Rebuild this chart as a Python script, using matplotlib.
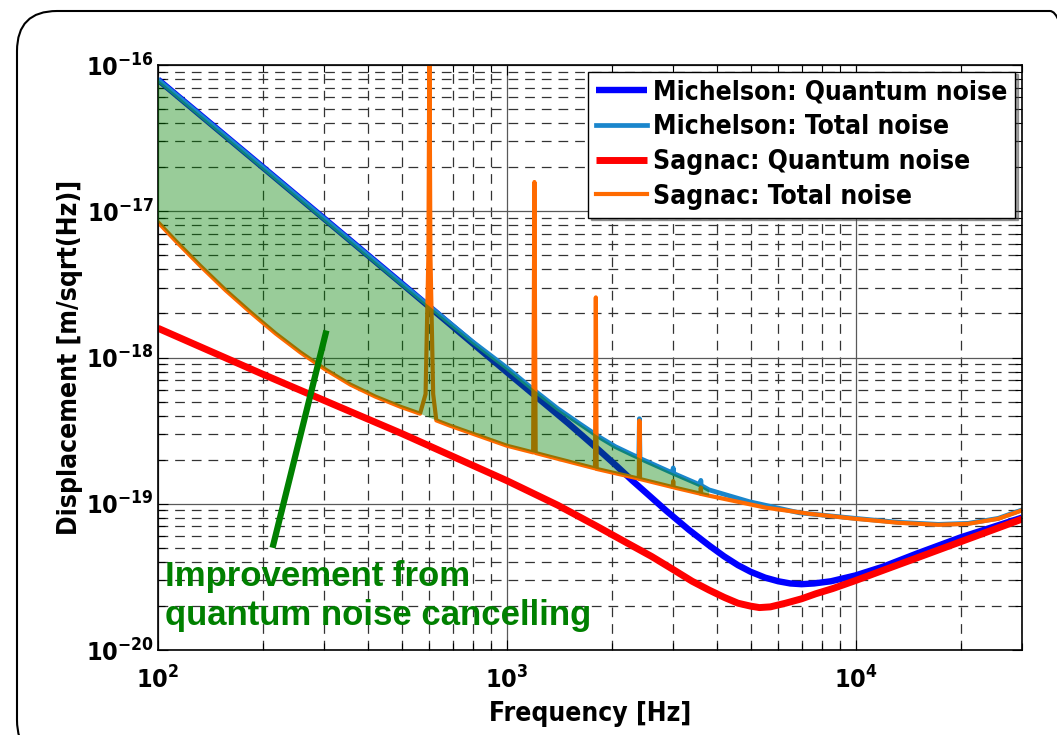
import matplotlib
matplotlib.use('Agg')
import matplotlib.pyplot as plt
import numpy as np
from matplotlib.patches import FancyBboxPatch
from matplotlib.transforms import IdentityTransform

plt.rcParams['font.family'] = ['DejaVu Sans']
plt.rcParams['font.weight'] = 'bold'
plt.rcParams['font.stretch'] = 'condensed'
plt.rcParams['font.size'] = 19
plt.rcParams['axes.labelweight'] = 'bold'
plt.rcParams['lines.scale_dashes'] = False

# Michelson: quantum noise  (freq [Hz], log10 displacement)
mq_f = [100, 200, 500, 1000, 1500, 1845, 2061, 2291, 2563, 2866, 3334, 3802, 4200, 4600,
        5000, 5500, 6000, 6500, 7000, 7600, 8500, 10000, 12000, 15000, 20000, 30000]
mq_y = [-16.10, -16.70, -17.495, -18.10, -18.45, -18.637, -18.74, -18.842, -18.945, -19.048,
        -19.18, -19.285, -19.36, -19.42, -19.465, -19.505, -19.53, -19.545, -19.55, -19.545,
        -19.53, -19.49, -19.43, -19.34, -19.23, -19.095]

# Michelson: total noise
mt_f = [100, 200, 500, 800, 1000, 1200, 1400, 1600, 1845, 2050, 2291, 2390, 2400, 2410,
        2976, 2990, 3000, 3010, 3590, 3600, 3610, 3802, 4945, 6900, 10000, 13270, 17270,
        21030, 25630, 30000]
mt_y = [-16.10, -16.70, -17.495, -17.894, -18.07, -18.225, -18.35, -18.445, -18.545, -18.61,
        -18.665, -18.685, -18.418, -18.69, -18.788, -18.79, -18.755, -18.793, -18.872, -18.84,
        -18.875, -18.905, -18.985, -19.062, -19.10, -19.127, -19.141, -19.134, -19.100, -19.042]

# Sagnac: quantum noise
sq_f = [100, 200, 500, 1000, 1400, 1800, 2200, 2600, 3000, 3400, 3800, 4200, 4600, 5000,
        5300, 5700, 6300, 7000, 7700, 8600, 10000, 12000, 15000, 20000, 30000]
sq_y = [-17.80, -18.115, -18.52, -18.842, -19.01, -19.15, -19.265, -19.36, -19.45, -19.53,
        -19.59, -19.64, -19.68, -19.70, -19.71, -19.705, -19.68, -19.65, -19.615, -19.58,
        -19.525, -19.455, -19.37, -19.26, -19.105]

# Sagnac: total noise (with the resonance lines)
st_f = [100, 112.6, 132.7, 156.4, 184.4, 217.4, 256.3, 302, 355.9, 419.6, 494.6, 564,
        585, 596, 600, 604, 615, 628, 687, 1000, 1190, 1200, 1210, 1327, 1790, 1800, 1810,
        2390, 2400, 2410, 2990, 3000, 3010, 3121, 3590, 3600, 3610, 3802, 5534, 7342, 10000,
        13270, 17270, 21030, 25630, 30000]
st_y = [-17.075, -17.205, -17.377, -17.541, -17.692, -17.836, -17.966, -18.082, -18.185,
        -18.267, -18.336, -18.384, -18.25, -17.3, -15.8, -17.3, -18.25, -18.43, -18.466,
        -18.603, -18.649, -16.80, -18.653, -18.678, -18.758, -17.589, -18.762, -18.828,
        -18.432, -18.831, -18.886, -18.845, -18.888, -18.897, -18.931, -18.89, -18.933,
        -18.945, -19.027, -19.068, -19.103, -19.130, -19.144, -19.137, -19.103, -19.045]

# points that belong to resonance peaks (left out of the shaded area)
res_f = [585, 596, 600, 604, 615, 1200, 1800, 2400, 3000, 3600]
fill_fmax = 3802

# annotation pointer
arrow_f = [213, 304]
arrow_y = [5.0e-20, 1.53e-18]

mq_f, mq_y = np.array(mq_f), 10.0 ** np.array(mq_y)
mt_f, mt_y = np.array(mt_f), 10.0 ** np.array(mt_y)
sq_f, sq_y = np.array(sq_f), 10.0 ** np.array(sq_y)
st_f, st_y = np.array(st_f), 10.0 ** np.array(st_y)

fig = plt.figure(figsize=(10.57, 7.35), dpi=100)
ax = fig.add_axes([158/1057, 1 - 650/735, (1022-158)/1057, (650-65)/735])

ax.plot(mq_f, mq_y, color='#0000ff', lw=4.6, label='Michelson: Quantum noise', solid_capstyle='butt')
ax.plot(mt_f, mt_y, color='#1a86cc', lw=3.4, label='Michelson: Total noise')
ax.plot(sq_f, sq_y, color='#ff0000', lw=5.0, label='Sagnac: Quantum noise', solid_capstyle='butt')
ax.plot(st_f, st_y, color='#ff6a00', lw=3.0, label='Sagnac: Total noise')

# shaded improvement between the two total noise curves
up = (mt_f <= fill_fmax) & ~np.isin(mt_f, res_f)
lo = (st_f <= fill_fmax) & ~np.isin(st_f, res_f)
ax.fill(np.r_[mt_f[up], st_f[lo][::-1]], np.r_[mt_y[up], st_y[lo][::-1]],
        color='green', alpha=0.4, lw=0, zorder=3)

ax.plot(arrow_f, arrow_y, color='green', lw=4.5, solid_capstyle='butt', zorder=4)
ax.text(0.008, 0.092, 'Improvement from\nquantum noise cancelling', transform=ax.transAxes,
        color='green', family='Liberation Sans', weight='bold', stretch='normal', size=25,
        va='center', ha='left', linespacing=1.25, zorder=5)

ax.set_xscale('log')
ax.set_yscale('log')
ax.set_xlim(100, 30000)
ax.set_ylim(1e-20, 1e-16)

ax.grid(True, which='major', ls='-', color='0.35', lw=0.9)
ax.grid(True, which='minor', ls=(0, (7, 5)), color='0.2', lw=0.9)
ax.tick_params(which='both', direction='in', top=True, right=True, width=0.8, labelsize=18)
ax.tick_params(which='major', length=7)
ax.tick_params(which='minor', length=5)
ax.tick_params(axis='x', pad=12)
ax.tick_params(axis='y', pad=3)
for s in ax.spines.values():
    s.set_linewidth(1.2)

ax.set_xlabel('Frequency [Hz]', labelpad=5)
ax.set_ylabel('Displacement [m/sqrt(Hz)]', labelpad=2)

leg = ax.legend(loc='upper right', fontsize=19, handlelength=1.9, handletextpad=0.25,
                labelspacing=0.33, borderpad=0.3, borderaxespad=0.25, fancybox=False,
                shadow=True, framealpha=1)
leg.get_frame().set_edgecolor('k')
leg.get_frame().set_linewidth(1.0)

# slide frame with rounded corners, partly outside the picture
frame = FancyBboxPatch((17, -25), 1073, 749, boxstyle='round,pad=0,rounding_size=40',
                       transform=IdentityTransform(), fill=False, lw=1.5, ec='k')
fig.add_artist(frame)

fig.savefig('out.png', dpi=100)
